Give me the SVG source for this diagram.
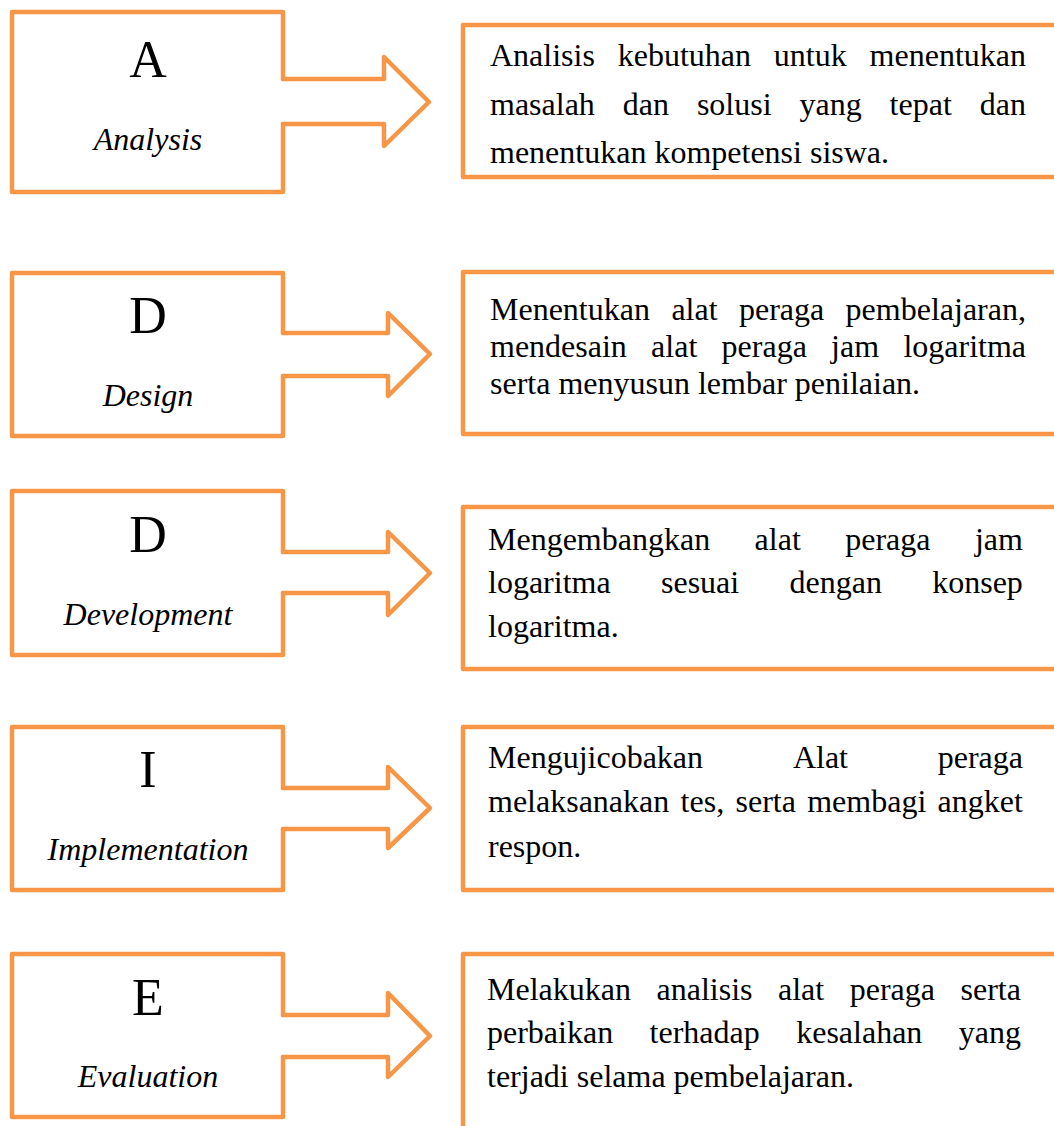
<svg xmlns="http://www.w3.org/2000/svg" width="1054" height="1126" viewBox="0 0 1054 1126">
<style>
.ln{fill:none;stroke:#F79646;stroke-width:4.5;stroke-linejoin:round;stroke-linecap:round}
text{font-family:"Liberation Serif","Times New Roman",serif;fill:#000}
.letter{font-size:52px;text-anchor:middle}
.label{font-size:32px;font-style:italic;text-anchor:middle}
.body{font-size:32px}
</style>
<rect width="1054" height="1126" fill="#fff"/>
<g id="connectors">
<path class="ln" d="M283,79 H384 V57 L429,102 L384,146 V124 H283"/>
<path class="ln" d="M283,333 H388 V313 L430,354 L388,396 V376 H283"/>
<path class="ln" d="M283,552 H388 V532 L430,573 L388,615 V593 H283"/>
<path class="ln" d="M283,788 H388 V767 L430,808 L388,848 V829 H283"/>
<path class="ln" d="M283,1015 H388 V993 L430,1036 L388,1077 V1057 H283"/>
</g>
<g id="node-analysis">
<path class="ln" d="M283,79 V12 H12 V192 H283 V124"/>
<text class="letter" x="148" y="77">A</text>
<text class="label" x="148" y="150">Analysis</text>
</g>
<g id="node-design">
<path class="ln" d="M283,333 V273 H12 V436 H283 V376"/>
<text class="letter" x="148" y="333">D</text>
<text class="label" x="148" y="406">Design</text>
</g>
<g id="node-development">
<path class="ln" d="M283,552 V491 H12 V655 H283 V593"/>
<text class="letter" x="148" y="552">D</text>
<text class="label" x="148" y="625">Development</text>
</g>
<g id="node-implementation">
<path class="ln" d="M283,788 V727 H12 V890 H283 V829"/>
<text class="letter" x="148" y="787">I</text>
<text class="label" x="148" y="860">Implementation</text>
</g>
<g id="node-evaluation">
<path class="ln" d="M283,1015 V954 H12 V1117 H283 V1057"/>
<text class="letter" x="148" y="1015">E</text>
<text class="label" x="148" y="1087">Evaluation</text>
</g>
<g id="desc-analysis">
<rect class="ln" x="463" y="25" width="640" height="152"/>
<text class="body" y="66"><tspan x="490">Analisis</tspan><tspan x="617.7">kebutuhan</tspan><tspan x="773.8">untuk</tspan><tspan x="869.6">menentukan</tspan></text>
<text class="body" y="115"><tspan x="490">masalah</tspan><tspan x="622.8">dan</tspan><tspan x="696.9">solusi</tspan><tspan x="799.5">yang</tspan><tspan x="889.6">tepat</tspan><tspan x="979.7">dan</tspan></text>
<text class="body" x="490" y="163">menentukan kompetensi siswa.</text>
</g>
<g id="desc-design">
<rect class="ln" x="463" y="272" width="640" height="162"/>
<text class="body" y="320"><tspan x="490">Menentukan</tspan><tspan x="671.4">alat</tspan><tspan x="739">peraga</tspan><tspan x="845.6">pembelajaran,</tspan></text>
<text class="body" y="357"><tspan x="490">mendesain</tspan><tspan x="651.1">alat</tspan><tspan x="721.6">peraga</tspan><tspan x="831.1">jam</tspan><tspan x="903.4">logaritma</tspan></text>
<text class="body" x="490" y="394">serta menyusun lembar penilaian.</text>
</g>
<g id="desc-development">
<rect class="ln" x="463" y="507" width="640" height="162"/>
<text class="body" y="550"><tspan x="488">Mengembangkan</tspan><tspan x="754.6">alat</tspan><tspan x="845.2">peraga</tspan><tspan x="974.9">jam</tspan></text>
<text class="body" y="593"><tspan x="488">logaritma</tspan><tspan x="661">sesuai</tspan><tspan x="789.5">dengan</tspan><tspan x="932.2">konsep</tspan></text>
<text class="body" x="488" y="637">logaritma.</text>
</g>
<g id="desc-implementation">
<rect class="ln" x="463" y="727" width="640" height="163"/>
<text class="body" y="768"><tspan x="488">Mengujicobakan</tspan><tspan x="792.9">Alat</tspan><tspan x="937.7">peraga</tspan></text>
<text class="body" y="812"><tspan x="488">melaksanakan</tspan><tspan x="680.6">tes,</tspan><tspan x="735.5">serta</tspan><tspan x="807.2">membagi</tspan><tspan x="937.6">angket</tspan></text>
<text class="body" x="488" y="857">respon.</text>
</g>
<g id="desc-evaluation">
<rect class="ln" x="463" y="954" width="640" height="220"/>
<text class="body" y="1000"><tspan x="487">Melakukan</tspan><tspan x="656.5">analisis</tspan><tspan x="778">alat</tspan><tspan x="849.7">peraga</tspan><tspan x="960.5">serta</tspan></text>
<text class="body" y="1043"><tspan x="487">perbaikan</tspan><tspan x="649.6">terhadap</tspan><tspan x="796.2">kesalahan</tspan><tspan x="958.8">yang</tspan></text>
<text class="body" x="487" y="1087">terjadi selama pembelajaran.</text>
</g>
</svg>
